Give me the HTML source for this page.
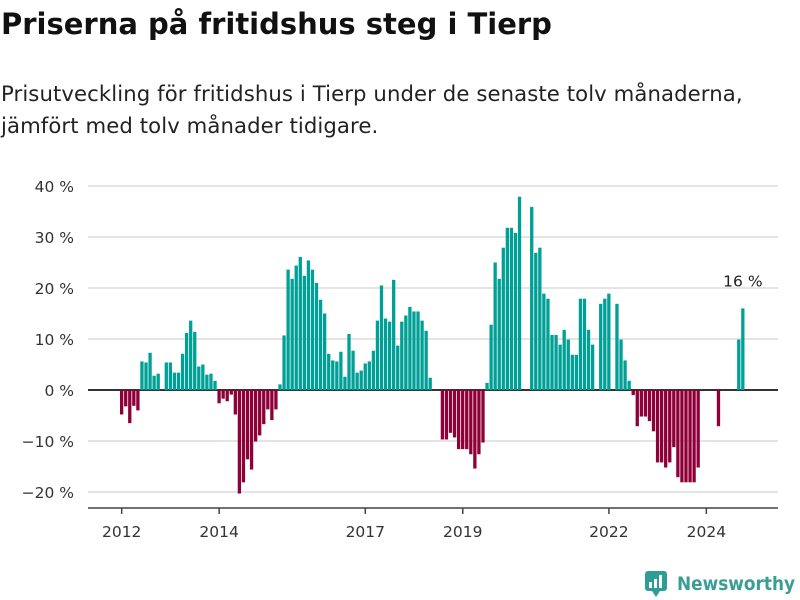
<!DOCTYPE html>
<html><head><meta charset="utf-8">
<style>
body{margin:0;background:#fff;width:800px;height:600px;overflow:hidden;font-family:"DejaVu Sans","Liberation Sans",sans-serif;color:#111}
h1{position:absolute;left:1px;top:7px;margin:0;font-size:29px;font-weight:bold;letter-spacing:0px;white-space:nowrap}
p{position:absolute;left:1px;top:78px;margin:0;font-size:21.2px;line-height:32px;color:#222;width:798px;white-space:nowrap;letter-spacing:0.1px}
svg{position:absolute;left:0;top:0}
</style></head><body>
<h1>Priserna på fritidshus steg i Tierp</h1>
<p>Prisutveckling för fritidshus i Tierp under de senaste tolv månaderna,<br>jämfört med tolv månader tidigare.</p>
<svg id="chart" width="800" height="600"></svg>
<script>
const values = [-4.8,-3.2,-6.5,-3.1,-4.0,5.6,5.4,7.3,2.8,3.2,null,5.4,5.4,3.4,3.4,7.1,11.2,13.6,11.4,4.6,5.0,3.0,3.2,1.8,
-2.6,-1.7,-2.2,-0.9,-4.8,-20.3,-18.1,-13.6,-15.6,-10.1,-8.9,-6.7,-3.8,-5.9,-3.8,1.1,10.7,23.6,21.8,24.4,26.1,22.4,25.4,23.6,
21.0,17.7,15.0,7.1,5.8,5.6,7.5,2.6,11.0,7.7,3.4,3.8,5.2,5.6,7.7,13.6,20.5,14.0,13.4,21.6,8.7,13.4,14.6,16.3,
15.4,15.4,13.6,11.6,2.4,null,null,-9.7,-9.7,-8.4,-9.3,-11.6,-11.6,-11.6,-12.6,-15.4,-12.6,-10.3,1.4,12.8,25.0,21.8,27.9,31.8,
31.8,30.8,37.9,null,null,35.9,26.9,27.9,18.9,17.9,10.8,10.8,8.9,11.8,9.9,6.9,6.9,17.9,17.9,11.8,8.9,null,16.9,17.9,
18.9,null,16.9,9.9,5.8,1.8,-1.0,-7.1,-5.2,-5.2,-6.1,-8.1,-14.2,-14.2,-15.2,-14.2,-11.2,-17.1,-18.1,-18.1,-18.1,-18.1,-15.2,null,
null,null,null,-7.1,null,null,null,null,9.9,16.0];
const startYear = 2012;
const yTicks = [40,30,20,10,0,-10,-20];
const xTickYears = [2012,2014,2017,2019,2022,2024];
const lastLabel = "16 %";

const svg = document.getElementById('chart');
const NS = 'http://www.w3.org/2000/svg';
const y = v => 390 - v * 5.1;
const xIdx = i => 120 + i * 4.06;
function mk(tag, attrs){const e=document.createElementNS(NS,tag);for(const k in attrs)e.setAttribute(k,attrs[k]);svg.appendChild(e);return e;}

yTicks.forEach(t=>{
  const g = mk('line',{x1:88,x2:778,y1:y(t),y2:y(t),stroke:t===0?'#333':'#dcdcdc','stroke-width':t===0?2:1.5});
  
  
  const tx = mk('text',{x:74,y:y(t)+6,'text-anchor':'end','font-size':15.5,fill:'#333'});
  tx.textContent = (t<0?'\u2212'+(-t):t)+' %';
  
  
});

values.forEach((v,i)=>{
  if(v===null) return;
  const r = mk('rect',{x:xIdx(i),width:3.3,y:v>=0?y(v):y(0),height:Math.abs(y(v)-y(0)),fill:v>=0?'#00a096':'#8e0038'});
  
  
});

const ax = mk('line',{x1:88,x2:778,y1:508,y2:508,stroke:'#444','stroke-width':1.5});


xTickYears.forEach(yr=>{
  const cx = xIdx((yr-startYear)*12)+1.7;
  const tk = mk('line',{x1:cx,x2:cx,y1:508,y2:514,stroke:'#444','stroke-width':1.5});
  
  
  const t = mk('text',{x:cx,y:537,'text-anchor':'middle','font-size':15.5,fill:'#333'});
  t.textContent = yr;
  
  
});

const li = values.length-1;
const lab = mk('text',{x:xIdx(li)+1.7,y:y(values[li])-22,'text-anchor':'middle','font-size':15.5,fill:'#222'});
lab.textContent = lastLabel;



const logo = mk('g',{});


logo.innerHTML = '<rect x="645" y="571" width="22" height="20" rx="3" fill="#2e9e94"/><path d="M652 591 L656 597 L660 591 Z" fill="#2e9e94"/><rect x="649" y="582" width="3" height="6" fill="#fff"/><rect x="654" y="579" width="3" height="9" fill="#fff"/><rect x="659" y="575" width="3" height="13" fill="#fff"/><text x="677" y="590" font-size="19" font-weight="bold" fill="#3a9e94" textLength="118" lengthAdjust="spacingAndGlyphs">Newsworthy</text>';
</script>
</body></html>
